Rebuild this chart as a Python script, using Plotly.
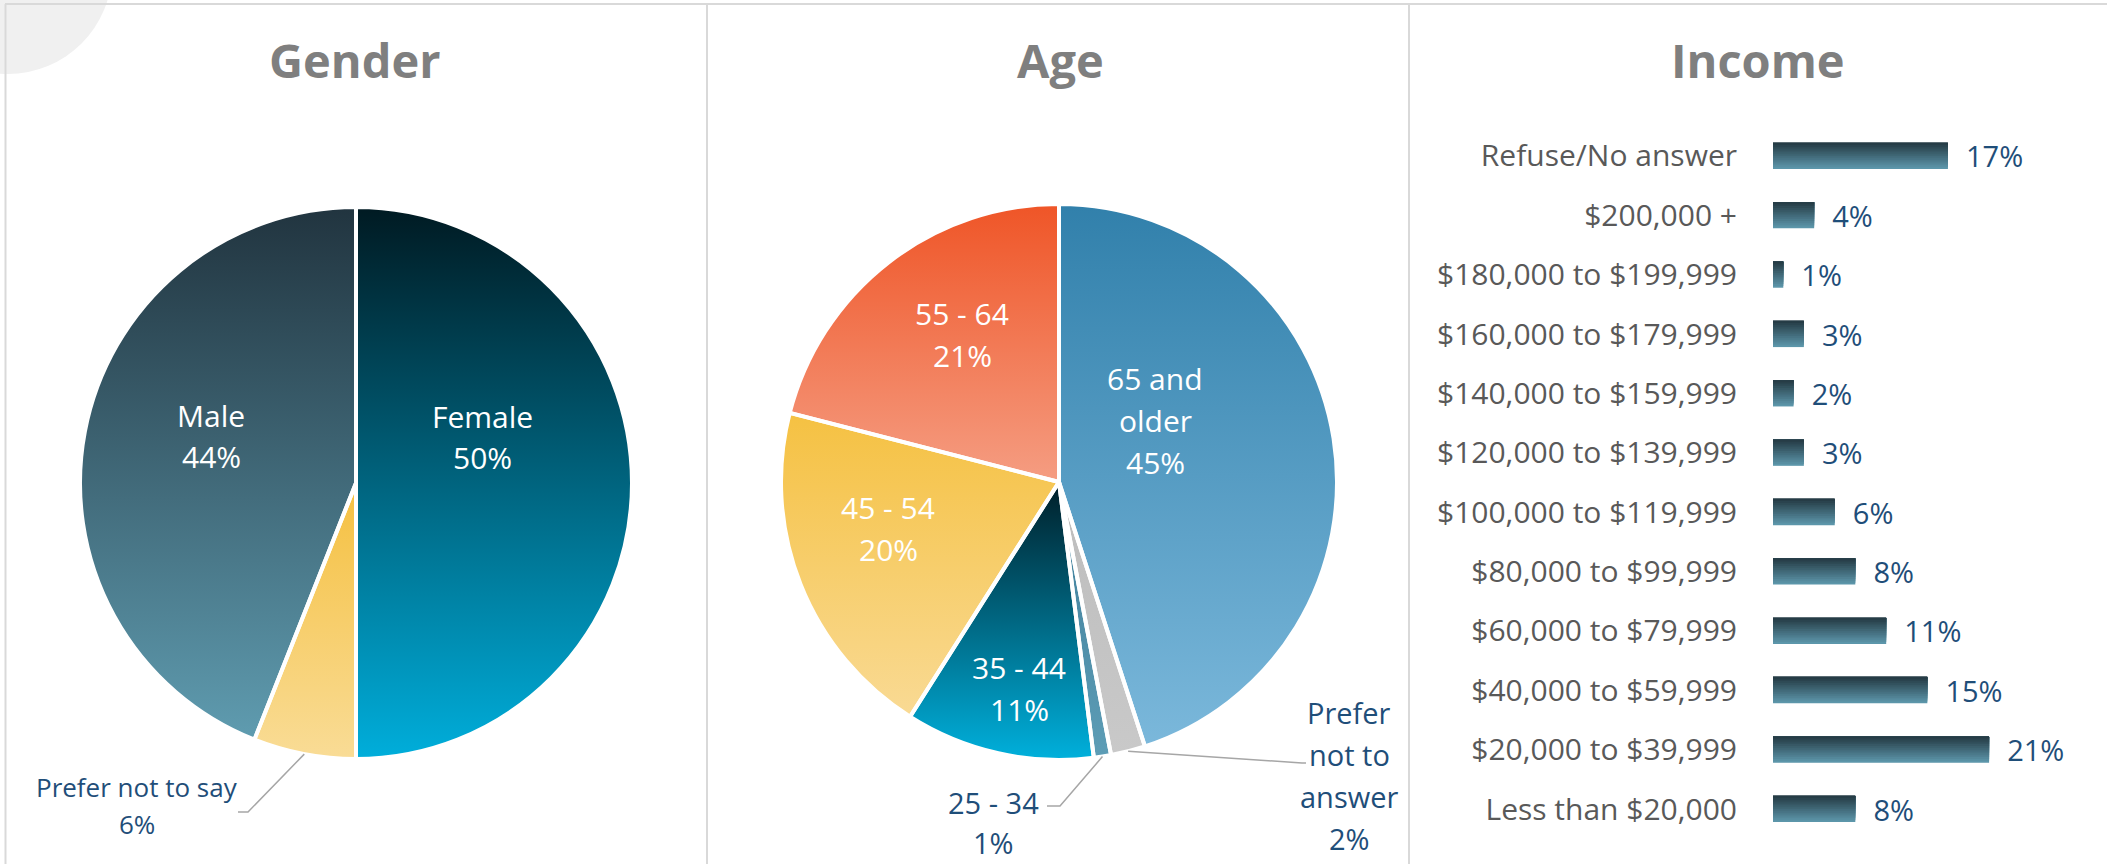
import numpy as np
import plotly.graph_objects as go

W, H = 2107, 864

# ---------------- data ----------------
gender_labels = ["Female", "Prefer not to say", "Male"]
gender_values = [50, 6, 44]

age_labels = ["65 and older", "Prefer not to answer", "25 - 34", "35 - 44", "45 - 54", "55 - 64"]
age_values = [45, 2, 1, 11, 20, 21]

income_labels = ["Refuse/No answer", "$200,000 +", "$180,000 to $199,999", "$160,000 to $179,999",
                 "$140,000 to $159,999", "$120,000 to $139,999", "$100,000 to $119,999",
                 "$80,000 to $99,999", "$60,000 to $79,999", "$40,000 to $59,999",
                 "$20,000 to $39,999", "Less than $20,000"]
income_values = [17, 4, 1, 3, 2, 3, 6, 8, 11, 15, 21, 8]

# ---------------- styles ----------------
# (top colour, bottom colour) of each slice's vertical gradient
gender_colors = [("#001a22", "#00aedb"), ("#f5c040", "#f9dc96"), ("#21343f", "#5f9cb0")]
age_colors = [("#3180ab", "#7bb8db"), ("#bcbcbc", "#c9c9c9"), ("#3d7c98", "#5d9db6"),
              ("#001e28", "#00b0dc"), ("#f5c142", "#f9da94"), ("#ef5527", "#f59d82")]
bar_top, bar_bottom = "#263c46", "#5c96aa"
label_blue = "#1f4e79"
FONT = "Open Sans"

GENDER_PIE = (356, 483, 276)   # centre x, centre y (px from top), radius
AGE_PIE = (1059, 482, 278)


def px(x):
    return x / W


def py(y):
    return 1 - y / H


def dom(c):
    cx, cy, r = c
    return dict(x=[px(cx - r), px(cx + r)], y=[py(cy + r), py(cy - r)])


fig = go.Figure()


def add_pie(values, labels, colors, pie, xa, ya):
    d = dom(pie)
    total = float(sum(values))
    start = 0.0
    for v, (top, bot) in zip(values, colors):
        end = start + v / total
        n = max(int((end - start) * 600), 3)
        t = np.linspace(start, end, n) * 2 * np.pi
        xs = np.concatenate([[0], np.sin(t), [0]])
        ys = np.concatenate([[0], np.cos(t), [0]])
        fig.add_trace(go.Scatter(
            x=xs, y=ys, xaxis=xa, yaxis=ya, mode="lines", fill="toself",
            line=dict(width=0, color=bot),
            fillgradient=dict(type="vertical", colorscale=[[0, bot], [1, top]]),
            hoverinfo="skip", showlegend=False))
        start = end
    fig.add_trace(go.Pie(
        values=values, labels=labels, sort=False, direction="clockwise", rotation=0,
        domain=d, textinfo="none", hoverinfo="skip", showlegend=False,
        marker=dict(colors=["rgba(0,0,0,0)"] * len(values), line=dict(color="white", width=4))))
    return d


gd = add_pie(gender_values, gender_labels, gender_colors, GENDER_PIE, "x", "y")
ad = add_pie(age_values, age_labels, age_colors, AGE_PIE, "x2", "y2")

# ---------------- income bars (vertical gradient via stacked bands) ----------------
def mix(c1, c2, f):
    a = [int(c1[i:i + 2], 16) for i in (1, 3, 5)]
    b = [int(c2[i:i + 2], 16) for i in (1, 3, 5)]
    return "rgb(%d,%d,%d)" % tuple(round(a[i] + (b[i] - a[i]) * f) for i in range(3))


BW = 0.438
NB = 14
for k in range(NB):
    w = BW * (1 - k / NB)
    fig.add_trace(go.Bar(
        x=income_values, y=income_labels, orientation="h", xaxis="x3", yaxis="y3",
        width=[w] * len(income_values), offset=[-BW / 2] * len(income_values),
        marker=dict(color=mix(bar_bottom, bar_top, k / (NB - 1)), line=dict(width=0)),
        text=[f"{v}%" for v in income_values] if k == 0 else None,
        texttemplate="\u00a0\u00a0%{text}" if k == 0 else None,
        textposition="outside" if k == 0 else "none",
        textfont=dict(family=FONT, size=29, color=label_blue),
        textangle=0, constraintext="none", cliponaxis=False,
        hoverinfo="skip", showlegend=False))

# ---------------- labels ----------------
annotations = []
shapes = []


def add_label(x, yc, lines, size, color, spacing):
    n = len(lines)
    for i, s in enumerate(lines):
        y = yc + (i - (n - 1) / 2) * spacing
        annotations.append(dict(x=px(x), y=py(y), xref="paper", yref="paper", text=s,
                                showarrow=False, xanchor="center", yanchor="middle",
                                font=dict(family=FONT, size=size, color=color)))


def split(label):
    return {"65 and older": ["65 and", "older"],
            "Prefer not to answer": ["Prefer", "not to", "answer"]}.get(label, [label])


def pct(v):
    return f"{v}%"


g = dict(zip(gender_labels, gender_values))
a = dict(zip(age_labels, age_values))

add_label(482, 437, ["Female", pct(g["Female"])], 30, "white", 41)
add_label(211, 436, ["Male", pct(g["Male"])], 30, "white", 41)
add_label(137, 805, ["Prefer not to say", pct(g["Prefer not to say"])], 26, label_blue, 37)

add_label(1155, 420, split("65 and older") + [pct(a["65 and older"])], 30, "white", 42)
add_label(962, 334, ["55 - 64", pct(a["55 - 64"])], 30, "white", 42)
add_label(888, 528, ["45 - 54", pct(a["45 - 54"])], 30, "white", 42)
add_label(1019, 688, ["35 - 44", pct(a["35 - 44"])], 30, "white", 42)
add_label(993, 822, ["25 - 34", pct(a["25 - 34"])], 29, label_blue, 40)
add_label(1349, 775, split("Prefer not to answer") + [pct(a["Prefer not to answer"])], 29, label_blue, 42)

# titles
for t, x in (("Gender", 355), ("Age", 1060), ("Income", 1758)):
    annotations.append(dict(x=px(x), y=py(60), xref="paper", yref="paper", text=f"<b>{t}</b>",
                            showarrow=False, xanchor="center", yanchor="middle",
                            font=dict(family=FONT, size=47, color="#7f7f7f")))


# leader lines from slice mid-angle on the rim
def rim_point(values, idx, pie):
    cx, cy, r = pie
    tot = float(sum(values))
    mid = (sum(values[:idx]) + values[idx] / 2) / tot * 2 * np.pi
    return cx + r * np.sin(mid), cy - r * np.cos(mid)


def leader(p0, pts):
    path = "M %f,%f" % (px(p0[0]), py(p0[1]))
    for (x, y) in pts:
        path += " L %f,%f" % (px(x), py(y))
    shapes.append(dict(type="path", xref="paper", yref="paper", path=path,
                       line=dict(color="#a6a6a6", width=1.5)))


leader(rim_point(gender_values, 1, GENDER_PIE), [(248, 812), (238, 812)])
leader(rim_point(age_values, 2, AGE_PIE), [(1060, 806), (1047, 806)])
leader(rim_point(age_values, 1, AGE_PIE), [(1302, 763), (1306, 763)])

# decorative frame
shapes.insert(0, dict(type="circle", xref="paper", yref="paper", x0=px(-96), x1=px(112),
                      y0=py(74), y1=py(-134), fillcolor="#f0f0f0", line=dict(width=0)))
frame = "#d9d9d9"
shapes.append(dict(type="line", xref="paper", yref="paper", x0=px(5), x1=1, y0=py(4), y1=py(4),
                   line=dict(color=frame, width=2)))
for xx in (5.5, 707, 1409):
    shapes.append(dict(type="line", xref="paper", yref="paper", x0=px(xx), x1=px(xx), y0=py(4), y1=0,
                       line=dict(color=frame, width=2)))

hidden = dict(visible=False, fixedrange=True, showgrid=False, zeroline=False)
fig.update_layout(
    width=W, height=H, margin=dict(l=0, r=0, t=0, b=0),
    paper_bgcolor="white", plot_bgcolor="rgba(0,0,0,0)",
    showlegend=False, hovermode=False, barmode="overlay",
    xaxis=dict(domain=gd["x"], range=[-1, 1], anchor="y", **hidden),
    yaxis=dict(domain=gd["y"], range=[-1, 1], anchor="x", **hidden),
    xaxis2=dict(domain=ad["x"], range=[-1, 1], anchor="y2", **hidden),
    yaxis2=dict(domain=ad["y"], range=[-1, 1], anchor="x2", **hidden),
    xaxis3=dict(domain=[px(1773), px(1773 + 30 * 10.29)], range=[0, 30], anchor="y3", **hidden),
    yaxis3=dict(domain=[py(838.7), py(126.3)], range=[11.5, -0.5], anchor="x3",
                type="category", categoryorder="array", categoryarray=income_labels,
                showgrid=False, zeroline=False, showline=False, fixedrange=True,
                ticks="", ticklabelstandoff=35,
                tickfont=dict(family=FONT, size=30, color="#595959")),
    annotations=annotations, shapes=shapes,
)

fig.write_html(
    "out.html",
    config={"displayModeBar": False},
    post_script="document.body.style.margin='0';document.body.style.padding='0';"
                "document.body.style.overflow='hidden';",
)
